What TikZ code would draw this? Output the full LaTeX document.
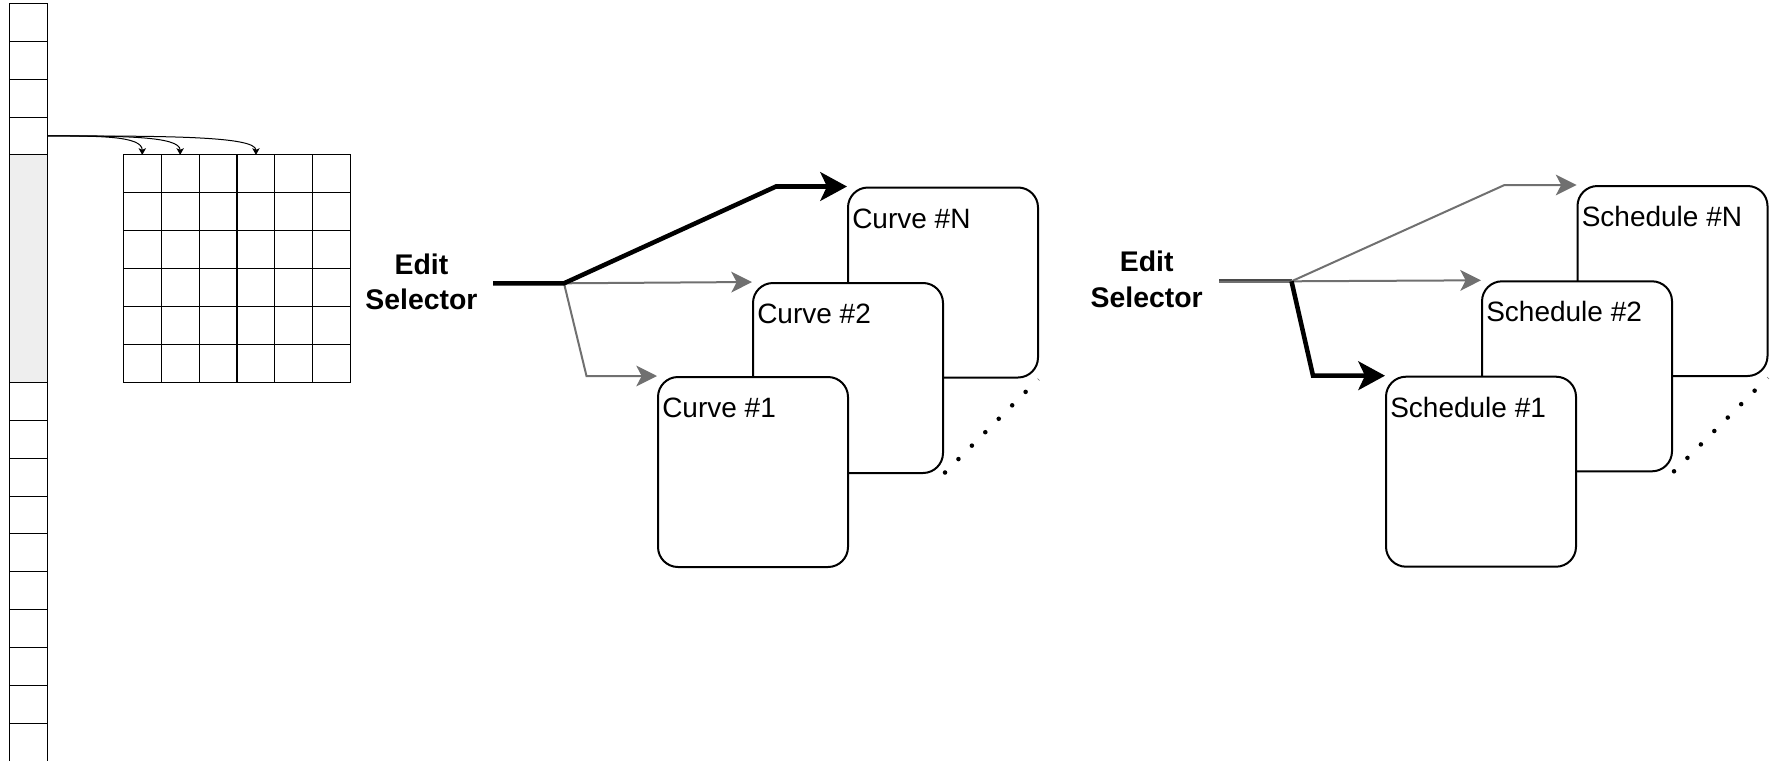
\documentclass[tikz,border=0pt]{standalone}
\usepackage{fontspec}
\setmainfont{Liberation Sans}
\usetikzlibrary{arrows.meta,calc}
\definecolor{wire}{HTML}{707070}
\definecolor{shade}{HTML}{EEEEEE}
\definecolor{stemgray}{HTML}{4A4A4A}

\begin{document}
\begin{tikzpicture}[x=0.75pt,y=-0.75pt,
  cell/.style={draw=black,line width=0.75pt,inner sep=0pt,outer sep=0pt,
               minimum width=28.5pt,minimum height=28.425pt},
  link/.style={line width=0.75pt,-{Stealth[length=5pt,width=5.5pt,inset=1.2pt]}},
  box/.style={draw=black,line width=1.5pt,fill=white,rounded corners=15pt,
              inner sep=0pt,minimum width=142.5pt,minimum height=142.5pt},
  lbl/.style={anchor=base west,inner sep=0pt,font=\fontsize{21pt}{24pt}\selectfont},
  sel/.style={anchor=base,inner sep=0pt,font=\bfseries\fontsize{21.3pt}{24pt}\selectfont},
  hot/.style={line width=3.4pt,black,line join=miter,
              -{Stealth[length=20pt,width=21.5pt,inset=5pt]}},
  cold/.style={line width=1.5pt,wire,line join=miter,
               -{Stealth[length=15.5pt,width=15.5pt,inset=4pt]}},
  stem/.style={line width=3.2pt,stemgray},
  dots/.style={line width=3.4pt,black,line cap=round,dash pattern=on 0pt off 14.25pt},
  tick/.style={line width=0.5pt,wire}]

\useasboundingbox (0,0) rectangle (1776,760);
\clip (0,0) rectangle (1776,760);

% ---- vertical vector of cells with a shaded block ----
\foreach \i in {0,...,3}
  \node[cell] (col\i) at (28.5,{3.3+37.9*\i+18.95}) {};
\node[cell,fill=shade,minimum height=170.55pt] (blk) at (28.5,{3.3+37.9*4+113.7}) {};
\foreach \i in {10,...,19}
  \node[cell] (col\i) at (28.5,{3.3+37.9*\i+18.95}) {};

% ---- 6x6 matrix ----
\foreach \rr in {0,...,5}
  \foreach \cc in {0,...,5}
    \node[cell] (g\rr\cc) at ({123.3+37.9*\cc+18.95},{154.9+37.9*\rr+18.95}) {};

% ---- curved links from one cell into the matrix ----
\foreach \k in {0,1,3}
  \draw[link] (col3.east) .. controls ($(col3.east)!0.55!(g0\k.north |- col3.east)$)
                          and (g0\k.north |- col3.east) .. (g0\k.north);

% ---- curve selection ----
\node[sel] (ed1) at (421.5,274) {Edit};
\node[sel] (se1) at (421.5,309) {Selector};

\node[box] (cvN) at (943,282.5) {};
\node[box] (cv2) at (848,378) {};
\node[box] (cv1) at (753,472) {};
\node[lbl] (tcvN) at ($(cvN.north west)+(5,41.5)$) {Curve \#N};
\node[lbl] (tcv2) at ($(cv2.north west)+(5,41.5)$) {Curve \#2};
\node[lbl] (tcv1) at ($(cv1.north west)+(5,41.5)$) {Curve \#1};

\coordinate (s1) at (493,283.3);
\coordinate (b1) at (564,283.3);
\draw[cold] (b1) -- (cv2.north west);
\draw[cold] (b1) -- ($(cv1.north west)+(-70.5,0)$) -- (cv1.north west);
\draw[hot] (s1) -- (b1) -- ($(cvN.north west)+(-71,0)$) -- (cvN.north west);

\draw[dots] ($(cv2.south east)+(1,-1.5)$) -- ($(cv2.south east)+(84,-84.5)$);
\draw[tick] ($(cvN.south east)+(-1.5,0)$) -- ++(2,2);

% ---- schedule selection ----
\node[sel] (ed2) at (1146.7,271.7) {Edit};
\node[sel] (se2) at (1146.7,307.7) {Selector};

\node[box] (shN) at (1672.5,281) {};
\node[box] (sh2) at (1577,376.3) {};
\node[box] (sh1) at (1481,471.7) {};
\node[lbl] (tshN) at ($(shN.north west)+(5,41.5)$) {Schedule \#N};
\node[lbl] (tsh2) at ($(sh2.north west)+(5,41.5)$) {Schedule \#2};
\node[lbl] (tsh1) at ($(sh1.north west)+(5,41.5)$) {Schedule \#1};

\coordinate (s2) at (1219,281.3);
\coordinate (b2) at (1291.5,281.3);
\draw[stem] (s2) -- (b2);
\draw[line width=1pt,wire] ($(s2)+(0,0.8)$) -- ($(b2)+(0,0.8)$);
\draw[cold] (b2) -- ($(shN.north west)+(-72,0)$) -- (shN.north west);
\draw[cold] (b2) -- (sh2.north west);
\draw[hot] (b2) -- ($(sh1.north west)+(-72,0)$) -- (sh1.north west);

\draw[dots] ($(sh2.south east)+(1,-1)$) -- ($(sh2.south east)+(84,-84)$);
\draw[tick] ($(shN.south east)+(-1.5,0)$) -- ++(2,2);
\end{tikzpicture}
\end{document}
